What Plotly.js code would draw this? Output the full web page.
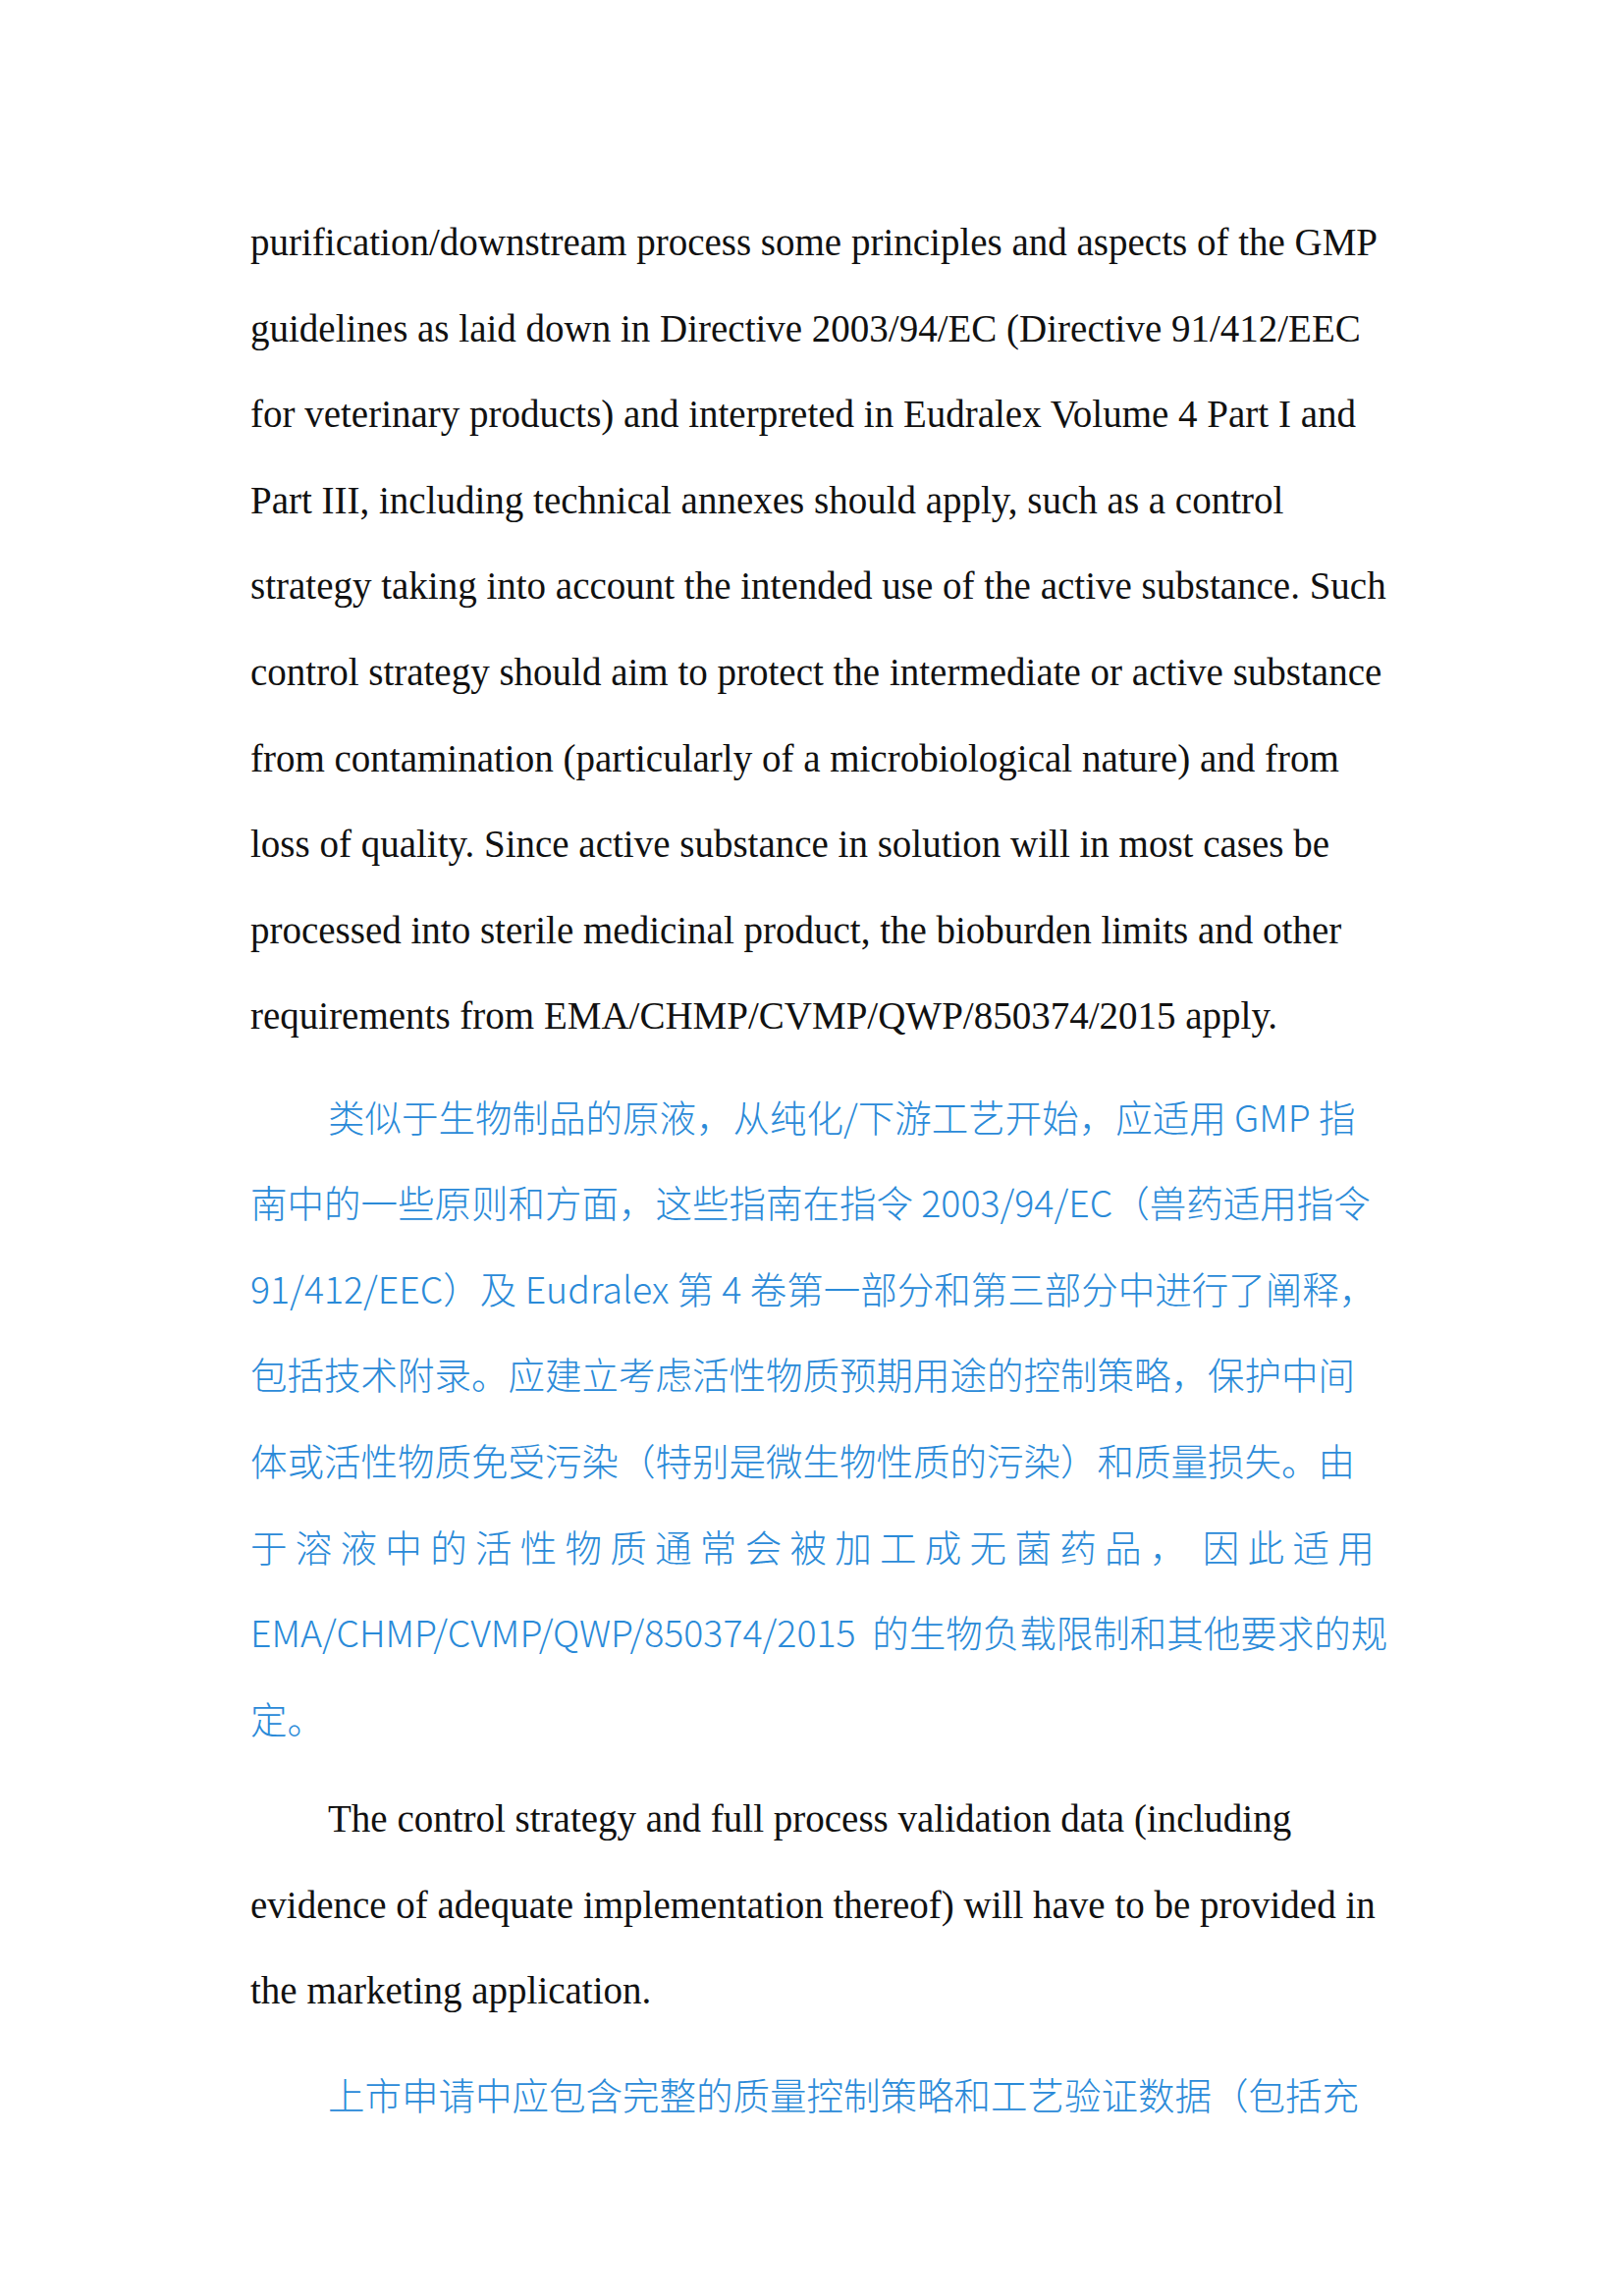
<!DOCTYPE html>
<html><head><meta charset="utf-8">
<script src="https://cdn.plot.ly/plotly-3.0.1.min.js"></script>
<style>body{margin:0;background:#fff}</style>
</head><body><div id="p" style="width:1654px;height:2339px"></div>
<script>
const enLines1 = [
"purification/downstream process some principles and aspects of the GMP",
"guidelines as laid down in Directive 2003/94/EC (Directive 91/412/EEC",
"for veterinary products) and interpreted in Eudralex Volume 4 Part I and",
"Part III, including technical annexes should apply, such as a control",
"strategy taking into account the intended use of the active substance. Such",
"control strategy should aim to protect the intermediate or active substance",
"from contamination (particularly of a microbiological nature) and from",
"loss of quality. Since active substance in solution will in most cases be",
"processed into sterile medicinal product, the bioburden limits and other",
"requirements from EMA/CHMP/CVMP/QWP/850374/2015 apply."
];
const zhLines1 = [
"类似于生物制品的原液，从纯化/下游工艺开始，应适用 GMP 指",
"南中的一些原则和方面，这些指南在指令 2003/94/EC（兽药适用指令",
"91/412/EEC）及 Eudralex 第 4 卷第一部分和第三部分中进行了阐释，",
"包括技术附录。应建立考虑活性物质预期用途的控制策略，保护中间",
"体或活性物质免受污染（特别是微生物性质的污染）和质量损失。由",
"于 溶 液 中 的 活 性 物 质 通 常 会 被 加 工 成 无 菌 药 品 ，  因 此 适 用",
"EMA/CHMP/CVMP/QWP/850374/2015  的生物负载限制和其他要求的规",
"定。"
];
const enLines2 = [
"The control strategy and full process validation data (including",
"evidence of adequate implementation thereof) will have to be provided in",
"the marketing application."
];
const zhLines2 = [
"上市申请中应包含完整的质量控制策略和工艺验证数据（包括充"
];
const H = 2339, W = 1654;
const blocks = [
  {lines: enLines1, y0: 247, indentFirst: false, zh: false},
  {lines: zhLines1, y0: 1136, indentFirst: true, zh: true},
  {lines: enLines2, y0: 1853, indentFirst: true, zh: false},
  {lines: zhLines2, y0: 2132, indentFirst: true, zh: true}
];
const ann = [];
blocks.forEach(b => {
  b.lines.forEach((t, i) => {
    ann.push({
      text: t, xref: 'paper', yref: 'paper',
      x: ((b.indentFirst && i === 0) ? 332 : 253) / W,
      y: 1 - (b.y0 + i * 87.6) / H,
      xanchor: 'left', yanchor: 'middle', showarrow: false,
      font: b.zh ? {family: '"Noto Sans CJK SC"', size: 37.5, color: '#2a8ad8', weight: 300}
                 : {family: '"Liberation Serif"', size: 39, color: '#111'}
    });
  });
});
Plotly.newPlot('p', [], {
  width: W, height: H, margin: {l: 0, r: 0, t: 0, b: 0},
  paper_bgcolor: '#fff', plot_bgcolor: '#fff',
  xaxis: {visible: false}, yaxis: {visible: false},
  annotations: ann, showlegend: false
}, {staticPlot: true});
</script></body></html>
